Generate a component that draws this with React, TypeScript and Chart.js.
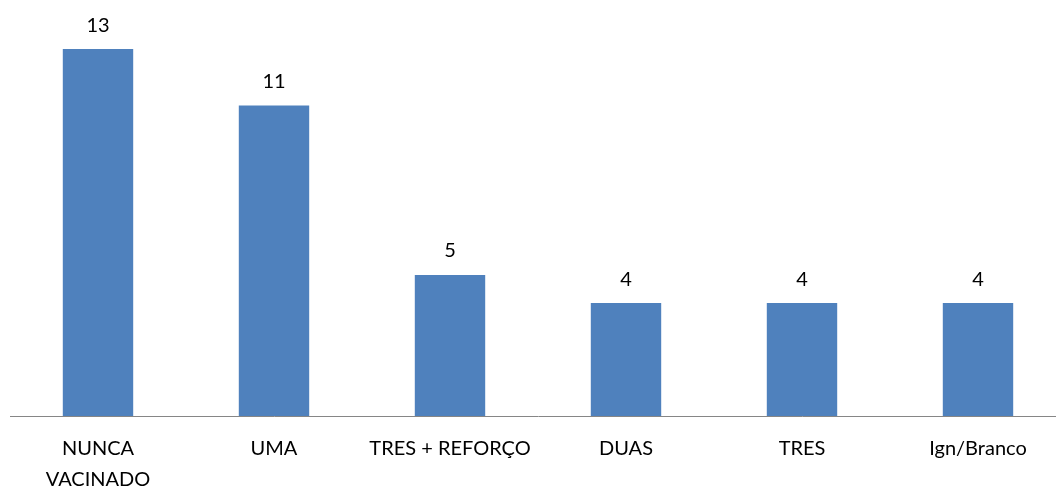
import React, { useEffect, useRef } from "react";
import { Chart, registerables } from "chart.js";

Chart.register(...registerables);

const categories: (string | string[])[] = [
  ["NUNCA", "VACINADO"],
  "UMA",
  "TRES + REFORÇO",
  "DUAS",
  "TRES",
  "Ign/Branco",
];
const counts: number[] = [13, 11, 5, 4, 4, 4];

const FONT = "Lato, 'Liberation Sans', sans-serif";

const valueLabels = {
  id: "valueLabels",
  afterDatasetsDraw(chart: any) {
    const ctx = chart.ctx;
    const meta = chart.getDatasetMeta(0);
    ctx.save();
    ctx.fillStyle = "#000000";
    ctx.font = `20px ${FONT}`;
    ctx.textAlign = "center";
    ctx.textBaseline = "middle";
    meta.data.forEach((bar: any, i: number) => {
      ctx.fillText(String(counts[i]), bar.x, bar.y - 24);
    });
    ctx.restore();
  },
};

export default function App() {
  const ref = useRef<HTMLCanvasElement>(null);

  useEffect(() => {
    document.body.style.margin = "0";
    const chart = new Chart(ref.current!, {
      type: "bar",
      data: {
        labels: categories,
        datasets: [
          {
            data: counts,
            backgroundColor: "#4F81BD",
            barPercentage: 0.4,
            categoryPercentage: 1,
          },
        ],
      },
      options: {
        animation: false,
        responsive: false,
        layout: { padding: { left: 10, right: 10, top: 0, bottom: 0 } },
        plugins: {
          legend: { display: false },
          tooltip: { enabled: false },
        },
        scales: {
          x: {
            grid: { display: false, drawTicks: false },
            border: { display: true, color: "#868686", width: 1 },
            ticks: {
              color: "#000000",
              font: { family: FONT, size: 20, lineHeight: 1.55 },
              padding: 17,
              maxRotation: 0,
              autoSkip: false,
            },
            afterFit(scale: any) {
              scale.height = 70;
            },
          },
          y: {
            display: false,
            min: 0,
            max: 14.74,
          },
        },
      },
      plugins: [valueLabels],
    });
    return () => chart.destroy();
  }, []);

  return (
    <div style={{ position: "fixed", left: 0, top: 0, width: 1056, height: 486, overflow: "hidden", background: "#ffffff" }}>
      <canvas ref={ref} width={1076} height={486} style={{ width: 1076, height: 486, display: "block" }} />
    </div>
  );
}
